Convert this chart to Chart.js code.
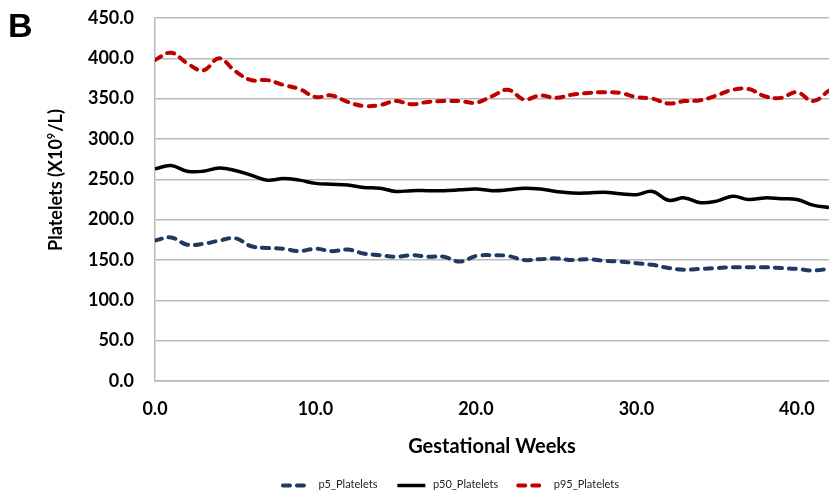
<!DOCTYPE html>
<html>
<head>
<meta charset="utf-8">
<script src="https://cdn.jsdelivr.net/npm/chart.js@4/dist/chart.umd.min.js"></script>
<style>
    html, body { margin: 0; padding: 0; background: #fff; }
    #wrap { position: relative; width: 829px; height: 492px; }
    #panel-label {
        position: absolute; left: 8px; top: 8px;
        font: bold 34px "Liberation Sans", Arial, sans-serif; line-height: 34px; color: #000;
    }
</style>
</head>
<body>
<div id="wrap">
    <canvas id="chart" width="829" height="492"></canvas>
    <div id="panel-label">B</div>
</div>
<script>
const weeks = [0, 1, 2, 3, 4, 5, 6, 7, 8, 9, 10, 11, 12, 13, 14, 15, 16, 17, 18, 19, 20,
    21, 22, 23, 24, 25, 26, 27, 28, 29, 30, 31, 32, 33, 34, 35, 36, 37, 38, 39, 40, 41, 42];

const p5Platelets = [174, 178, 169, 170, 174, 177, 167, 165, 164, 161, 164, 161, 163, 158, 156, 154, 156, 154, 154, 148, 155,
    156, 155, 150, 151, 152, 150, 151, 149, 148, 146, 144, 140, 138, 139, 140, 141, 141, 141, 140, 139, 137, 139];

const p50Platelets = [263, 267, 260, 260, 264, 261, 255, 249, 251, 249, 245, 244, 243, 240, 239, 235, 236, 236, 236, 237, 238,
    236, 237, 239, 238, 235, 233, 233, 234, 232, 231, 235, 224, 227, 221, 223, 229, 225, 227, 226, 225, 218, 215];

const p95Platelets = [398, 407, 394, 385, 400, 384, 373, 373, 367, 362, 352, 354, 346, 341, 342, 347, 343, 346, 347, 347, 345,
    353, 361, 349, 354, 351, 355, 357, 358, 357, 352, 350, 344, 347, 348, 354, 361, 362, 353, 351, 358, 347, 360];

const seriesNames = ["p5_Platelets", "p50_Platelets", "p95_Platelets"];
const xTitle = "Gestational Weeks";
const yTitleParts = ["Platelets (X10", "9", "/L)"];

const gridColor = "#b9b9b9";
const legendSample = 32;

function toPoints(values) {
    return values.map((v, i) => ({ x: weeks[i], y: v }));
}

// y axis title with a real superscript, placed where the reference has it
const sideTitle = {
    id: "sideTitle",
    afterDraw(chart) {
        const ctx = chart.ctx;
        ctx.save();
        ctx.translate(56, 180);
        ctx.rotate(-Math.PI / 2);
        ctx.fillStyle = "#000";
        ctx.textBaseline = "alphabetic";
        const big = 'bold 18px Lato, "Open Sans", sans-serif';
        const small = 'bold 11px Lato, "Open Sans", sans-serif';
        ctx.font = big;
        const w1 = ctx.measureText(yTitleParts[0]).width;
        const w3 = ctx.measureText(yTitleParts[2]).width;
        ctx.font = small;
        const w2 = ctx.measureText(yTitleParts[1]).width;
        let x = -(w1 + w2 + w3 + 1) / 2;
        const base = 6;
        ctx.font = big;
        ctx.fillText(yTitleParts[0], x, base);
        x += w1;
        ctx.font = small;
        ctx.fillText(yTitleParts[1], x, base - 7);
        x += w2 + 1;
        ctx.font = big;
        ctx.fillText(yTitleParts[2], x, base);
        ctx.restore();
    }
};

// legend line samples drawn with each dataset's own dash style
const legendLines = {
    id: "legendLines",
    afterDraw(chart) {
        const boxes = chart.legend && chart.legend.legendHitBoxes;
        if (!boxes) return;
        const ctx = chart.ctx;
        boxes.forEach((box, i) => {
            const ds = chart.data.datasets[i];
            const y = Math.round(box.top + box.height / 2) + 0.5;
            ctx.save();
            ctx.strokeStyle = ds.borderColor;
            ctx.lineWidth = ds.borderWidth;
            ctx.lineCap = ds.borderCapStyle || "butt";
            ctx.setLineDash(ds.borderDash || []);
            ctx.beginPath();
            ctx.moveTo(box.left + 2, y);
            ctx.lineTo(box.left + legendSample - 2, y);
            ctx.stroke();
            ctx.restore();
        });
    }
};

new Chart(document.getElementById("chart"), {
    type: "line",
    data: {
        datasets: [
            {
                label: seriesNames[0],
                data: toPoints(p5Platelets),
                borderColor: "#1f3a60",
                backgroundColor: "#1f3a60",
                borderWidth: 4,
                borderDash: [7, 7],
                borderCapStyle: "round",
                pointRadius: 0,
                tension: 0.4
            },
            {
                label: seriesNames[1],
                data: toPoints(p50Platelets),
                borderColor: "#000000",
                backgroundColor: "#000000",
                borderWidth: 3.5,
                pointRadius: 0,
                tension: 0.4
            },
            {
                label: seriesNames[2],
                data: toPoints(p95Platelets),
                borderColor: "#c00000",
                backgroundColor: "#c00000",
                borderWidth: 4,
                borderDash: [7, 7],
                borderCapStyle: "round",
                pointRadius: 0,
                tension: 0.4
            }
        ]
    },
    options: {
        responsive: false,
        animation: false,
        layout: { padding: { left: 71, right: 0, top: 18, bottom: -8 } },
        plugins: {
            tooltip: { enabled: false },
            legend: {
                position: "bottom",
                labels: {
                    boxWidth: legendSample,
                    boxHeight: 4,
                    padding: 18,
                    color: "#222",
                    font: { family: "Lato, 'Open Sans', sans-serif", size: 11 },
                    generateLabels(chart) {
                        return Chart.defaults.plugins.legend.labels.generateLabels(chart).map((item) => ({
                            ...item,
                            fillStyle: "rgba(0,0,0,0)",
                            strokeStyle: "rgba(0,0,0,0)",
                            lineWidth: 0
                        }));
                    }
                }
            }
        },
        scales: {
            x: {
                type: "linear",
                min: 0,
                max: 42,
                grid: { display: false, drawTicks: false },
                border: { display: true, color: gridColor, width: 1.5 },
                ticks: {
                    stepSize: 10,
                    includeBounds: false,
                    padding: 17,
                    color: "#000",
                    font: { family: "Lato, 'Open Sans', sans-serif", size: 18, weight: "bold" },
                    callback: (v) => Number(v).toFixed(1),
                    maxRotation: 0
                },
                title: {
                    display: true,
                    text: xTitle,
                    color: "#000",
                    padding: { top: 0, bottom: 2 },
                    font: { family: "Lato, 'Open Sans', sans-serif", size: 20, weight: "bold" }
                },
                afterFit(scale) {
                    scale.height = 80;
                    scale.paddingLeft = 0;
                    scale.paddingRight = 0;
                }
            },
            y: {
                min: 0,
                max: 450,
                grid: { color: gridColor, lineWidth: 1.5, drawTicks: false },
                border: { display: true, color: gridColor, width: 1.5 },
                ticks: {
                    stepSize: 50,
                    padding: 21,
                    color: "#000",
                    font: { family: "Lato, 'Open Sans', sans-serif", size: 18, weight: "bold" },
                    callback: (v) => Number(v).toFixed(1)
                },
                afterFit(scale) {
                    scale.width = 84;
                    scale.paddingTop = 0;
                    scale.paddingBottom = 0;
                }
            }
        }
    },
    plugins: [sideTitle, legendLines]
});
</script>
</body>
</html>
